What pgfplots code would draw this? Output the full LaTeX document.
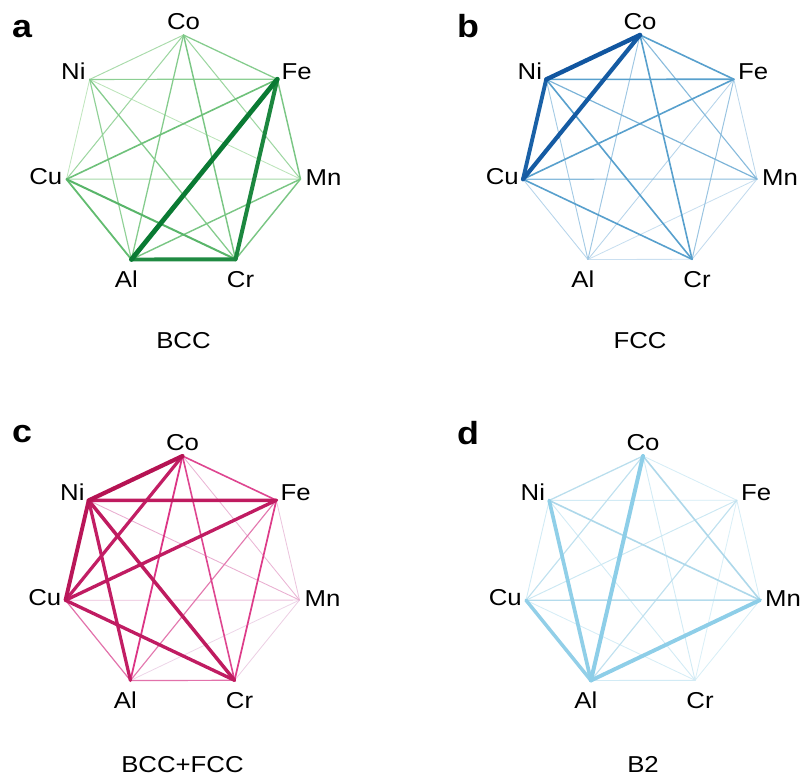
\documentclass[border=0pt]{standalone}
\usepackage{pgfplots}
\pgfplotsset{compat=1.18}
\usepackage{fontspec}
\setmainfont{Liberation Sans}[FakeStretch=1.12]
% palettes: L light, M mid, D dark
\definecolor{gL}{HTML}{D8F0D2}\definecolor{gM}{HTML}{62BC70}\definecolor{gD}{HTML}{0A7A33}
\definecolor{bL}{HTML}{D8E7F4}\definecolor{bM}{HTML}{4A98C9}\definecolor{bD}{HTML}{0B4F9C}
\definecolor{pL}{HTML}{EEDFEE}\definecolor{pM}{HTML}{DC3585}\definecolor{pD}{HTML}{AE0C4A}
\definecolor{sL}{HTML}{E4F4FA}\definecolor{sM}{HTML}{A8D5E8}\definecolor{sD}{HTML}{86CCE8}
% unit heptagon node positions
\def\xCo{0}\def\yCo{1}
\def\xFe{0.7818}\def\yFe{0.6250}
\def\xMn{0.9749}\def\yMn{-0.2210}
\def\xCr{0.4339}\def\yCr{-0.9010}
\def\xAl{-0.4339}\def\yAl{-0.9025}
\def\xCu{-0.9749}\def\yCu{-0.2225}
\def\xNi{-0.7818}\def\yNi{0.6235}
\newcommand\hedge[4]{%
  \pgfmathsetmacro\lw{0.8+4*#3*#3}%
  \pgfmathsetmacro\pa{min(#3,0.5)*200}%
  \pgfmathsetmacro\pr{100-max(#3-0.5,0)*200}%
  \edef\tmp{\noexpand\addplot[no markers, forget plot, line cap=round,
      draw={#4M!\pa!#4L!\pr!#4D}, line width=\lw bp]
      coordinates {(\csname x#1\endcsname,\csname y#1\endcsname)
                   (\csname x#2\endcsname,\csname y#2\endcsname)};}%
  \tmp}
\tikzset{elab/.style={inner sep=0pt, font=\fontsize{23bp}{27bp}\selectfont}}
\newcommand\elabels{%
  \node[elab, anchor=base, yshift=5bp] at (axis cs:\xCo,\yCo) {Co};
  \node[elab, anchor=base east, xshift=-4bp] at (axis cs:\xNi,0.6235) {Ni};
  \node[elab, anchor=base west, xshift=4bp] at (axis cs:\xFe,0.6235) {Fe};
  \node[elab, anchor=base east, xshift=-4bp, yshift=-5bp] at (axis cs:\xCu,-0.2225) {Cu};
  \node[elab, anchor=base west, xshift=5bp, yshift=-6bp] at (axis cs:\xMn,-0.2225) {Mn};
  \node[elab, anchor=base, xshift=-5bp, yshift=-28bp] at (axis cs:\xAl,-0.9010) {Al};
  \node[elab, anchor=base, xshift=5bp, yshift=-28bp] at (axis cs:\xCr,-0.9010) {Cr};}
\pgfplotsset{hepta/.style={scale only axis, axis lines=none, clip=false,
  xmin=-1.4, xmax=1.4, ymin=-1.4, ymax=1.4,
  width=336bp, height=330.4bp, anchor=center}}
\begin{document}
\begin{tikzpicture}
\useasboundingbox (0,0) rectangle (802bp,780bp);
% ---------------- a: BCC
\begin{axis}[hepta, at={(183.5bp,627bp)}]
\hedge{Ni}{Cu}{0.10}{g}
\hedge{Ni}{Mn}{0.12}{g}
\hedge{Co}{Ni}{0.20}{g}
\hedge{Cu}{Mn}{0.22}{g}
\hedge{Co}{Cu}{0.25}{g}
\hedge{Co}{Mn}{0.25}{g}
\hedge{Ni}{Fe}{0.32}{g}
\hedge{Ni}{Al}{0.30}{g}
\hedge{Co}{Fe}{0.35}{g}
\hedge{Co}{Al}{0.35}{g}
\hedge{Ni}{Cr}{0.35}{g}
\hedge{Co}{Cr}{0.40}{g}
\hedge{Fe}{Mn}{0.40}{g}
\hedge{Mn}{Al}{0.40}{g}
\hedge{Mn}{Cr}{0.40}{g}
\hedge{Fe}{Cu}{0.45}{g}
\hedge{Cu}{Al}{0.50}{g}
\hedge{Cu}{Cr}{0.55}{g}
\hedge{Al}{Cr}{0.88}{g}
\hedge{Fe}{Cr}{0.90}{g}
\hedge{Fe}{Al}{1.00}{g}
\elabels
\end{axis}
% ---------------- b: FCC
\begin{axis}[hepta, at={(640bp,627bp)}]
\hedge{Al}{Cr}{0.05}{b}
\hedge{Mn}{Al}{0.06}{b}
\hedge{Mn}{Cr}{0.08}{b}
\hedge{Fe}{Mn}{0.10}{b}
\hedge{Fe}{Al}{0.12}{b}
\hedge{Cu}{Al}{0.12}{b}
\hedge{Ni}{Al}{0.18}{b}
\hedge{Co}{Al}{0.20}{b}
\hedge{Fe}{Cr}{0.22}{b}
\hedge{Co}{Mn}{0.28}{b}
\hedge{Cu}{Mn}{0.28}{b}
\hedge{Ni}{Mn}{0.32}{b}
\hedge{Co}{Fe}{0.45}{b}
\hedge{Ni}{Fe}{0.45}{b}
\hedge{Fe}{Cu}{0.45}{b}
\hedge{Co}{Cr}{0.45}{b}
\hedge{Ni}{Cr}{0.45}{b}
\hedge{Cu}{Cr}{0.45}{b}
\hedge{Ni}{Cu}{0.88}{b}
\hedge{Co}{Cu}{0.92}{b}
\hedge{Co}{Ni}{0.95}{b}
\elabels
\end{axis}
% ---------------- c: BCC+FCC
\begin{axis}[hepta, at={(182.5bp,206bp)}]
\hedge{Mn}{Al}{0.03}{p}
\hedge{Mn}{Cr}{0.05}{p}
\hedge{Fe}{Mn}{0.08}{p}
\hedge{Cu}{Mn}{0.10}{p}
\hedge{Co}{Mn}{0.12}{p}
\hedge{Ni}{Mn}{0.14}{p}
\hedge{Fe}{Al}{0.30}{p}
\hedge{Cu}{Al}{0.32}{p}
\hedge{Al}{Cr}{0.32}{p}
\hedge{Co}{Fe}{0.45}{p}
\hedge{Co}{Cr}{0.45}{p}
\hedge{Fe}{Cr}{0.48}{p}
\hedge{Co}{Al}{0.50}{p}
\hedge{Co}{Cu}{0.78}{p}
\hedge{Ni}{Al}{0.78}{p}
\hedge{Fe}{Cu}{0.80}{p}
\hedge{Cu}{Cr}{0.80}{p}
\hedge{Ni}{Cr}{0.82}{p}
\hedge{Ni}{Fe}{0.82}{p}
\hedge{Ni}{Cu}{0.88}{p}
\hedge{Co}{Ni}{0.92}{p}
\elabels
\end{axis}
% ---------------- d: B2
\begin{axis}[hepta, at={(643bp,206bp)}]
\hedge{Fe}{Cr}{0.08}{s}
\hedge{Mn}{Cr}{0.10}{s}
\hedge{Co}{Fe}{0.12}{s}
\hedge{Fe}{Mn}{0.12}{s}
\hedge{Cu}{Cr}{0.12}{s}
\hedge{Co}{Cr}{0.15}{s}
\hedge{Ni}{Fe}{0.15}{s}
\hedge{Ni}{Cu}{0.15}{s}
\hedge{Ni}{Cr}{0.15}{s}
\hedge{Al}{Cr}{0.15}{s}
\hedge{Fe}{Cu}{0.20}{s}
\hedge{Fe}{Al}{0.30}{s}
\hedge{Co}{Cu}{0.30}{s}
\hedge{Co}{Ni}{0.35}{s}
\hedge{Cu}{Mn}{0.40}{s}
\hedge{Co}{Mn}{0.45}{s}
\hedge{Ni}{Mn}{0.45}{s}
\hedge{Cu}{Al}{0.82}{s}
\hedge{Ni}{Al}{0.85}{s}
\hedge{Mn}{Al}{0.88}{s}
\hedge{Co}{Al}{0.90}{s}
\elabels
\end{axis}
% panel letters and captions
\begin{scope}[every node/.style={inner sep=0pt}]
\node[anchor=base west, font=\bfseries\fontsize{32bp}{36bp}\selectfont] at (12bp,742bp) {a};
\node[anchor=base west, font=\bfseries\fontsize{32bp}{36bp}\selectfont] at (457bp,742bp) {b};
\node[anchor=base west, font=\bfseries\fontsize{32bp}{36bp}\selectfont] at (12bp,337bp) {c};
\node[anchor=base west, font=\bfseries\fontsize{32bp}{36bp}\selectfont] at (457bp,335bp) {d};
\node[anchor=base, font=\fontsize{23bp}{27bp}\selectfont] at (183.5bp,431bp) {BCC};
\node[anchor=base, font=\fontsize{23bp}{27bp}\selectfont] at (640bp,431bp) {FCC};
\node[anchor=base, font=\fontsize{23bp}{27bp}\selectfont] at (182.5bp,8bp) {BCC+FCC};
\node[anchor=base, font=\fontsize{23bp}{27bp}\selectfont] at (643bp,8bp) {B2};
\end{scope}
\end{tikzpicture}
\end{document}
